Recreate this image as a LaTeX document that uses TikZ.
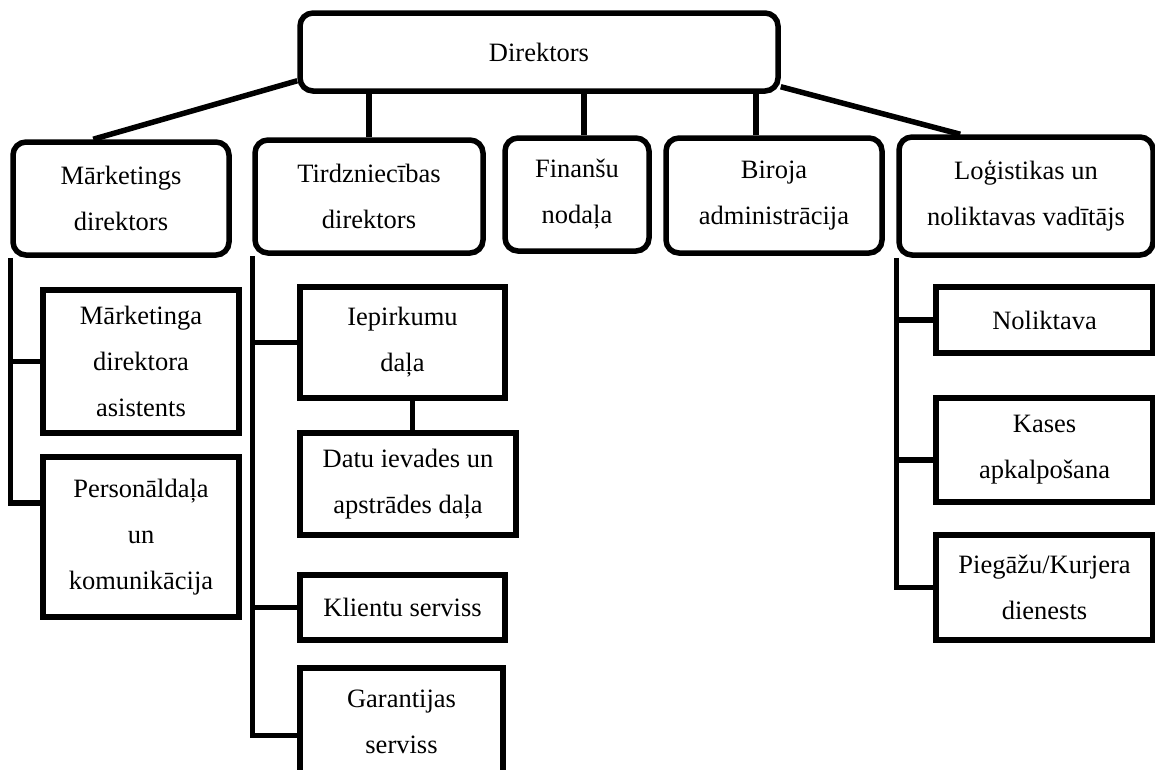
\documentclass[tikz,border=0pt]{standalone}
\usepackage{fontspec}
\setmainfont{Liberation Serif}
\usetikzlibrary{calc}
\tikzset{
  rbox/.style={draw=black, line width=5.5pt, rounded corners=13pt, fill=white, align=center, inner sep=0pt, font=\fontsize{26.5}{46}\selectfont},
  sbox/.style={draw=black, line width=5.5pt, fill=white, align=center, inner sep=0pt, font=\fontsize{26.5}{46}\selectfont},
  conn/.style={draw=black, line width=5.5pt}
}
\begin{document}
\begin{tikzpicture}[x=1pt,y=-1pt]
\useasboundingbox (0,0) rectangle (1155,769);
\node[rbox, minimum width=478pt, minimum height=78pt] (dir) at (539,52) {Direktors};
\node[rbox, minimum width=216pt, minimum height=113pt] (mk) at (121,198.5) {Mārketings\\direktors};
\node[rbox, minimum width=228pt, minimum height=113pt] (tz) at (369,196.5) {Tirdzniecības\\direktors};
\node[rbox, minimum width=144pt, minimum height=113pt] (fn) at (577,194.5) {Finanšu\\nodaļa};
\node[rbox, minimum width=216pt, minimum height=115pt] (bi) at (774,195.5) {Biroja\\administrācija};
\node[rbox, minimum width=254pt, minimum height=118pt] (lg) at (1026,196) {Loģistikas un\\noliktavas vadītājs};

\node[sbox, minimum width=196pt, minimum height=143pt] (as) at (141,361.5) {Mārketinga\\direktora\\asistents};
\node[sbox, minimum width=196pt, minimum height=160pt] (pd) at (141,537) {Personāldaļa\\un\\komunikācija};

\node[sbox, minimum width=205pt, minimum height=111pt] (ie) at (402.5,342.5) {Iepirkumu\\daļa};
\node[sbox, minimum width=216pt, minimum height=102pt] (dt) at (408,484) {Datu ievades un\\apstrādes daļa};
\node[sbox, minimum width=205pt, minimum height=65pt] (kl) at (402.5,607.5) {Klientu serviss};
\node[sbox, minimum width=203pt, minimum height=107pt] (ga) at (401.5,721.5) {Garantijas\\serviss};

\node[sbox, minimum width=217pt, minimum height=66pt] (no) at (1044.5,320) {Noliktava};
\node[sbox, minimum width=217pt, minimum height=104pt] (ka) at (1044.5,450) {Kases\\apkalpošana};
\node[sbox, minimum width=217pt, minimum height=105pt] (pi) at (1044.5,587.5) {Piegāžu/Kurjera\\dienests};

% top connectors
\draw[conn] ($(dir.south west)+(0,-13)$) -- ($(mk.north west)+(83,0)$);
\draw[conn] ($(dir.south east)+(0,-7)$) -- ($(lg.north west)+(64,0)$);
\draw[conn] (tz.north) -- (tz.north |- dir.south);
\coordinate (fnTop) at ($(fn.north)+(7,0)$);
\draw[conn] (fnTop) -- (fnTop |- dir.south);
\coordinate (biTop) at ($(bi.north)+(-18,0)$);
\draw[conn] (biTop) -- (biTop |- dir.south);

% marketing tree
\coordinate (pdIn) at ($(pd.west)+(0,-34)$);
\draw[conn] (mk.south west) |- (pdIn);
\draw[conn] (mk.south west |- as.west) -- (as.west);

% sales tree
\coordinate (gaIn) at ($(ga.west)+(0,14)$);
\draw[conn] (tz.south west) |- (gaIn);
\draw[conn] (tz.south west |- ie.west) -- (ie.west);
\draw[conn] (tz.south west |- kl.west) -- (kl.west);
\coordinate (ieBot) at ($(ie.south)+(10,0)$);
\draw[conn] (ieBot) -- (ieBot |- dt.north);

% logistics tree
\draw[conn] (lg.south west) |- (pi.west);
\draw[conn] (lg.south west |- no.west) -- (no.west);
\coordinate (kaIn) at ($(ka.west)+(0,10)$);
\draw[conn] (lg.south west |- kaIn) -- (kaIn);
\end{tikzpicture}
\end{document}
